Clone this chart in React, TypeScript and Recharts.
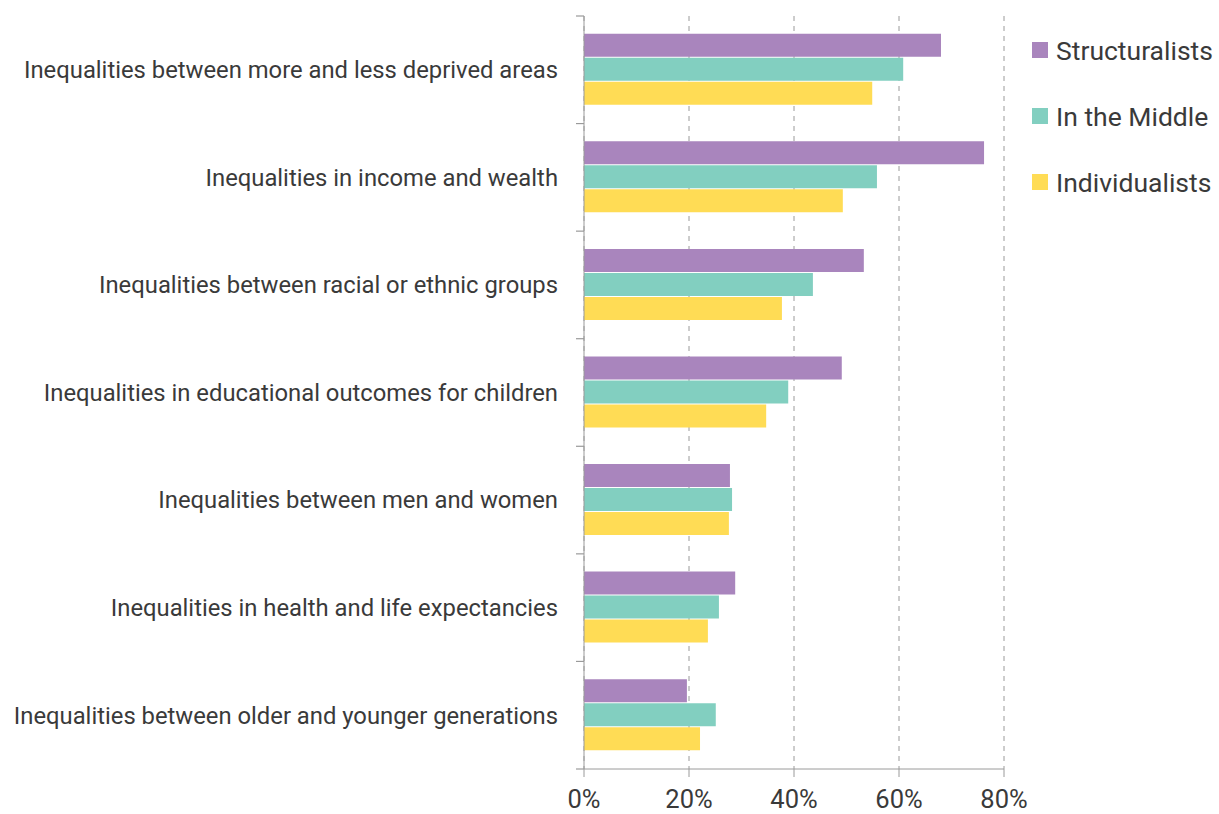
import { BarChart, Bar, XAxis, YAxis, CartesianGrid, Legend } from "recharts";

const categories = [
  "Inequalities between more and less deprived areas",
  "Inequalities in income and wealth",
  "Inequalities between racial or ethnic groups",
  "Inequalities in educational outcomes for children",
  "Inequalities between men and women",
  "Inequalities in health and life expectancies",
  "Inequalities between older and younger generations",
];
const structuralists = [68, 76.2, 53.3, 49.1, 27.8, 28.8, 19.6];
const inTheMiddle = [60.8, 55.8, 43.6, 38.9, 28.2, 25.7, 25.1];
const individualists = [54.9, 49.3, 37.7, 34.7, 27.6, 23.6, 22.1];
const xTicks = [0, 20, 40, 60, 80];

const series = [
  { key: "structuralists", name: "Structuralists", color: "#a985bd" },
  { key: "middle", name: "In the Middle", color: "#82cfc0" },
  { key: "individualists", name: "Individualists", color: "#ffdc55" },
];

const data = categories.map((c, i) => ({
  category: c,
  structuralists: structuralists[i],
  middle: inTheMiddle[i],
  individualists: individualists[i],
}));

const FONT = "Roboto, 'Liberation Sans', sans-serif";
const TEXT = "#3a3a3a";
const AXIS = "#9a9a9a";

function CategoryTick(props: any) {
  const { x, y, payload, index } = props;
  const half = payload && payload.offset ? payload.offset : 53.8;
  const last = index === categories.length - 1;
  return (
    <g>
      <line x1={x + 18} x2={x + 26} y1={y - half} y2={y - half} stroke={AXIS} strokeWidth={1.2} />
      {last && <line x1={x + 18} x2={x + 26} y1={y + half} y2={y + half} stroke={AXIS} strokeWidth={1.2} />}
      <text x={x} y={y} dy="0.35em" textAnchor="end" fill={TEXT} fontSize={23.8} fontFamily={FONT}>
        {payload.value}
      </text>
    </g>
  );
}

function LegendContent() {
  return (
    <div style={{ fontFamily: FONT }}>
      {series.map((s) => (
        <div key={s.key} style={{ display: "flex", alignItems: "center", height: 66 }}>
          <span style={{ width: 16, height: 16, background: s.color, display: "inline-block", marginRight: 8 }} />
          <span style={{ fontSize: 26.5, color: TEXT }}>{s.name}</span>
        </div>
      ))}
    </div>
  );
}

export default function App() {
  return (
    <div style={{ position: "absolute", left: 0, top: 0, background: "#fff" }}>
      <BarChart
        width={1219}
        height={814}
        data={data}
        layout="vertical"
        margin={{ top: 16, right: 28, bottom: 0, left: 0 }}
        barCategoryGap="16.5%"
        barGap={1}
      >
        <CartesianGrid horizontal={false} stroke={AXIS} strokeDasharray="5 5" />
        <XAxis
          type="number"
          domain={[0, 80]}
          ticks={xTicks}
          tickFormatter={(v) => `${v}%`}
          height={45}
          stroke={AXIS}
          tickSize={8}
          tickMargin={13}
          tick={{ fill: TEXT, fontSize: 25.5, fontFamily: FONT }}
        />
        <YAxis
          type="category"
          dataKey="category"
          width={584}
          stroke={AXIS}
          tickLine={false}
          tickSize={0}
          tickMargin={26}
          tick={<CategoryTick />}
        />
        <Legend
          layout="vertical"
          align="right"
          verticalAlign="top"
          content={<LegendContent />}
          wrapperStyle={{ left: 1032, top: 17, width: 187 }}
        />
        {series.map((s) => (
          <Bar key={s.key} dataKey={s.key} name={s.name} fill={s.color} isAnimationActive={false} />
        ))}
      </BarChart>
    </div>
  );
}
